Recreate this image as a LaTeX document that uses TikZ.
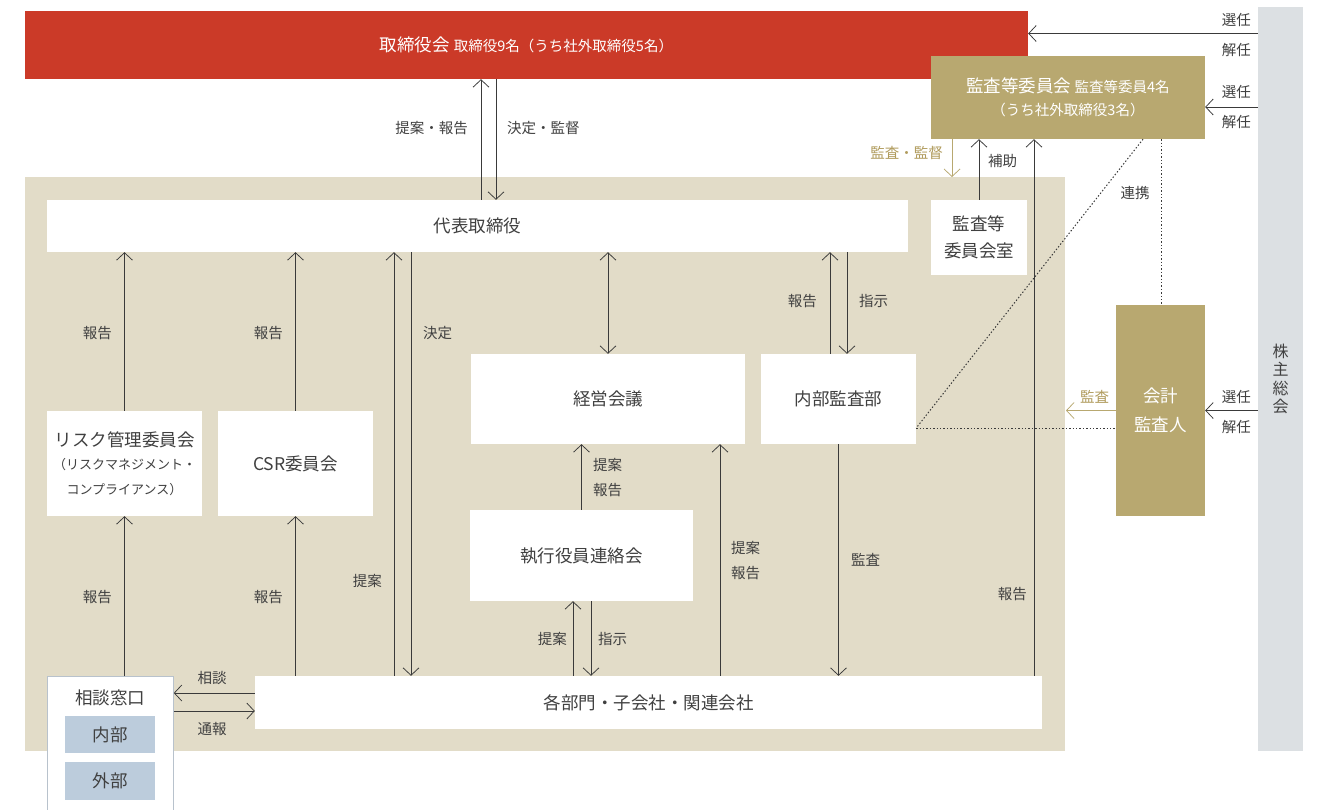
\documentclass[tikz,border=0pt]{standalone}
\usepackage{fontspec}
\setmainfont{Noto Sans CJK JP}
\usetikzlibrary{arrows.meta}
\definecolor{redA}{HTML}{CB3A28}
\definecolor{goldA}{HTML}{B8A870}
\definecolor{goldT}{HTML}{B09B5C}
\definecolor{beigeA}{HTML}{E2DCC8}
\definecolor{grayA}{HTML}{DCE0E3}
\definecolor{blueA}{HTML}{BCCCDC}
\definecolor{bordA}{HTML}{B8C2CC}
\definecolor{lnA}{HTML}{3A3A3A}
\definecolor{txtA}{HTML}{404040}
\newcommand\myfB{\fontsize{17.5}{27}\selectfont}
\newcommand\myfS{\fontsize{14.5}{24.5}\selectfont}
\newcommand\myfT{\fontsize{13}{21}\selectfont}
\begin{document}
\begin{tikzpicture}[x=1pt,y=-1pt,
  box/.style={fill=white, inner sep=0pt, align=center, text=txtA, font=\myfB},
  lbl/.style={inner sep=0pt, text=txtA, font=\myfS, align=center},
  glbl/.style={lbl, text=goldT},
  arr/.style={draw=lnA, line width=0.75pt, -{Straight Barb[length=7.5pt,width=16pt]}},
  darr/.style={draw=lnA, line width=0.75pt, {Straight Barb[length=7.5pt,width=16pt]}-{Straight Barb[length=7.5pt,width=16pt]}},
  garr/.style={arr, draw=goldA},
  dots/.style={draw=lnA, line width=1pt, dash pattern=on 1.4pt off 2pt}]
\useasboundingbox (0,0) rectangle (1317,809);
\fill[white] (0,0) rectangle (1317,809);
\fill[beigeA] (25,177) rectangle (1065,751);
% main boxes
\node[box, fill=redA, text=white, minimum width=1003, minimum height=68] (tb) at (526.5,45)
  {{\myfB 取締役会} {\myfS 取締役9名（うち社外取締役5名）}};
\node[box, fill=grayA, minimum width=45, minimum height=744, font=\fontsize{16}{18.5}\selectfont] (kb) at (1280.5,379)
  {株\\主\\総\\会};
\node[box, fill=goldA, text=white, minimum width=274, minimum height=83, font=\myfS] (ac) at (1068,97.5)
  {{\myfB 監査等委員会} 監査等委員4名\\[-1pt]（うち社外取締役3名）};
\node[box, minimum width=861, minimum height=52] (ceo) at (477.5,226) {代表取締役};
\node[box, minimum width=96, minimum height=75] (acr) at (979,237.5) {監査等\\委員会室};
\node[box, minimum width=274, minimum height=90] (mgm) at (608,399) {経営会議};
\node[box, minimum width=155, minimum height=90] (ia) at (838.5,399) {内部監査部};
\node[box, minimum width=155, minimum height=105] (risk) at (124.5,463.5)
  {リスク管理委員会\\[-4pt]{\myfT （リスクマネジメント・}\\[-2pt]{\myfT コンプライアンス）}};
\node[box, minimum width=155, minimum height=105] (csr) at (295.5,463.5) {CSR委員会};
\node[box, minimum width=223, minimum height=91] (ex) at (581.5,555.5) {執行役員連絡会};
\node[box, minimum width=787, minimum height=53] (dept) at (648.5,702.5) {各部門・子会社・関連会社};
\node[box, fill=goldA, text=white, minimum width=89, minimum height=211] (ca) at (1160.5,410.5) {会計\\[2pt]監査人};
\node[draw=bordA, line width=0.8pt, fill=white, minimum width=126, minimum height=150, inner sep=0pt, anchor=north west] (sd) at (47,676) {};
\node[lbl, font=\myfB] (sdt) at (110,698) {相談窓口};
\node[box, fill=blueA, minimum width=90, minimum height=37] (in1) at (110,734.5) {内部};
\node[box, fill=blueA, minimum width=90, minimum height=38] (out1) at (110,781) {外部};
% coordinates for free ends
\coordinate (gA) at (1066,410.5);
\coordinate (gB) at (952,177);
% arrows
\draw[arr] (481,0 |- ceo.north) -- (481,0 |- tb.south);
\draw[arr] (496,0 |- tb.south) -- (496,0 |- ceo.north);
\draw[arr] (kb.west |- 0,33.5) -- (tb.east |- 0,33.5);
\draw[arr] (kb.west |- 0,107) -- (ac.east |- 0,107);
\draw[arr] (kb.west |- ca.east) -- (ca.east);
\draw[garr] (ca.west) -- (gA);
\draw[garr] (952,0 |- ac.south) -- (gB);
\draw[arr] (acr.north) -- (acr.north |- ac.south);
\draw[arr] (1034,0 |- dept.north) -- (1034,0 |- ac.south);
\draw[dots] (1143,0 |- ac.south) -- (ia.east |- 0,428);
\draw[dots] (ia.east |- 0,428) -- (ca.west |- 0,428);
\draw[dots] (1161,0 |- ac.south) -- (1161,0 |- ca.north);
\draw[arr] (risk.north) -- (risk.north |- ceo.south);
\draw[arr] (risk.south |- sd.north) -- (risk.south);
\draw[arr] (csr.north) -- (csr.north |- ceo.south);
\draw[arr] (csr.south |- dept.north) -- (csr.south);
\draw[arr] (394,0 |- dept.north) -- (394,0 |- ceo.south);
\draw[arr] (411,0 |- ceo.south) -- (411,0 |- dept.north);
\draw[darr] (mgm.north |- ceo.south) -- (mgm.north);
\draw[arr] (830,0 |- ia.north) -- (830,0 |- ceo.south);
\draw[arr] (847,0 |- ceo.south) -- (847,0 |- ia.north);
\draw[arr] (ia.south) -- (ia.south |- dept.north);
\draw[arr] (ex.north) -- (ex.north |- mgm.south);
\draw[arr] (720,0 |- dept.north) -- (720,0 |- mgm.south);
\draw[arr] (573,0 |- dept.north) -- (573,0 |- ex.south);
\draw[arr] (591,0 |- ex.south) -- (591,0 |- dept.north);
\draw[arr] (dept.west |- 0,693) -- (sd.east |- 0,693);
\draw[arr] (sd.east |- 0,711) -- (dept.west |- 0,711);
% labels
\node[lbl, anchor=east] (l1) at (468,128) {提案・報告};
\node[lbl, anchor=west] (l2) at (507,128) {決定・監督};
\node[lbl, anchor=east] (l3) at (1251,19.5) {選任};
\node[lbl, anchor=east] (l4) at (1251,49.5) {解任};
\node[lbl, anchor=east] (l5) at (1251,91.5) {選任};
\node[lbl, anchor=east] (l6) at (1251,121.5) {解任};
\node[lbl, anchor=east] (l7) at (1251,396.5) {選任};
\node[lbl, anchor=east] (l8) at (1251,426.5) {解任};
\node[glbl, anchor=east] (l9) at (943,153) {監査・監督};
\node[lbl, anchor=west] (l10) at (988,161) {補助};
\node[lbl] (l11) at (1135,193) {連携};
\node[lbl, anchor=east] (l12) at (1027,594) {報告};
\node[glbl] (l13) at (1094.5,396.5) {監査};
\node[lbl, anchor=east] (l14) at (112,333) {報告};
\node[lbl, anchor=east] (l15) at (283,333) {報告};
\node[lbl, anchor=west] (l16) at (423,333) {決定};
\node[lbl, anchor=east] (l17) at (112,597) {報告};
\node[lbl, anchor=east] (l18) at (283,597) {報告};
\node[lbl, anchor=east] (l19) at (382,581) {提案};
\node[lbl, anchor=east] (l20) at (817,301) {報告};
\node[lbl, anchor=west] (l21) at (859,301) {指示};
\node[lbl, anchor=west] (l22) at (851,560) {監査};
\node[lbl, anchor=west] (l23) at (593,477.5) {提案\\報告};
\node[lbl, anchor=west] (l24) at (731,560.5) {提案\\報告};
\node[lbl, anchor=east] (l25) at (567,639) {提案};
\node[lbl, anchor=west] (l26) at (598,639) {指示};
\node[lbl] (l27) at (212,678) {相談};
\node[lbl] (l28) at (212,729) {通報};
\end{tikzpicture}
\end{document}
